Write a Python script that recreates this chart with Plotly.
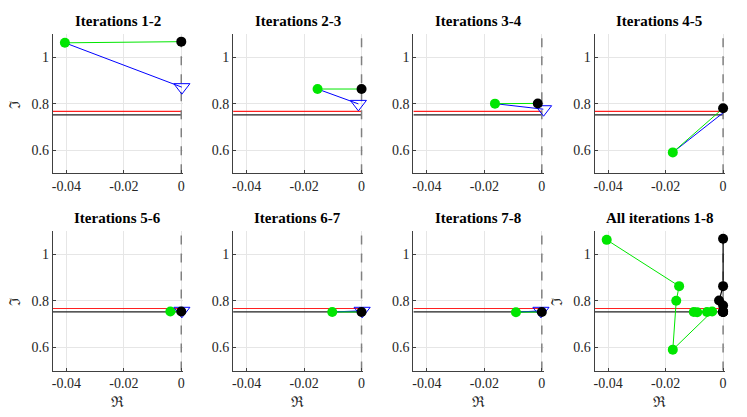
import plotly.graph_objects as go

# iterate points per iteration (real / imaginary part)
black_re = [0.0, 0.0, -0.0014, 0.0, 0.0, 0.0, 0.0, 0.0]
black_im = [1.067, 0.863, 0.801, 0.780, 0.754, 0.752, 0.752, 0.752]
green_re = [-0.0405, -0.0153, -0.0163, -0.0175, -0.0038, -0.0102, -0.0090, -0.0056]
green_im = [1.062, 0.863, 0.800, 0.590, 0.754, 0.752, 0.751, 0.752]
tri_re = [0.0002, -0.0011, 0.0006, 0.0007, 0.0002, 0.0002, -0.0003]
tri_im = [0.871, 0.799, 0.776, 0.767, 0.757, 0.757, 0.757]

# reference eigenvalue lines and imaginary axis
ref_re = [-0.0447, 0.0]
red_ref_im = [0.767, 0.767]
blk_ref_im = [0.752, 0.752]
imag_axis_re = [0.0, 0.0]
imag_axis_im = [0.5, 1.1]

panel_titles = ["Iterations 1-2", "Iterations 2-3", "Iterations 3-4", "Iterations 4-5",
                "Iterations 5-6", "Iterations 6-7", "Iterations 7-8", "All iterations 1-8"]
x_ticks = [-0.04, -0.02, 0]
x_tick_text = ["-0.04", "-0.02", "0"]
y_ticks = [0.6, 0.8, 1]
y_tick_text = ["0.6", "0.8", "1"]

W, H = 747, 417
OFF = 8  # the page body adds an 8px margin, so shift everything back
FONT = "Liberation Serif"
GREEN = "#00e600"

lefts = [52 - OFF, 233 - OFF, 414 - OFF, 596 - OFF]
rows = [(34 - OFF, 173.3 - OFF), (231 - OFF, 370.6 - OFF)]   # top / bottom pixel of each row
pw = 130.7

fig = go.Figure()
annotations = []


def add_trace(k, **kw):
    ax = "" if k == 0 else str(k + 1)
    fig.add_trace(go.Scatter(xaxis="x" + ax, yaxis="y" + ax, showlegend=False,
                             hoverinfo="skip", cliponaxis=False, **kw))


for k in range(8):
    r, c = divmod(k, 4)
    x0 = lefts[c]
    top, bot = rows[r]
    ax = "" if k == 0 else str(k + 1)

    # reference lines
    add_trace(k, x=ref_re, y=red_ref_im, mode="lines", line=dict(color="#ff2020", width=1.2))
    add_trace(k, x=ref_re, y=blk_ref_im, mode="lines", line=dict(color="#202020", width=1.2))
    add_trace(k, x=imag_axis_re, y=imag_axis_im, mode="lines",
              line=dict(color="#808080", width=1.5, dash="dash"))

    if k < 7:
        add_trace(k, x=[green_re[k], tri_re[k]], y=[green_im[k], tri_im[k]], mode="lines",
                  line=dict(color="#0000ff", width=1))
        add_trace(k, x=[tri_re[k]], y=[tri_im[k]], mode="markers",
                  marker=dict(symbol="triangle-down-open", size=14, color="#0000ff",
                              line=dict(width=1, color="#0000ff")))
        add_trace(k, x=[green_re[k], black_re[k]], y=[green_im[k], black_im[k]], mode="lines",
                  line=dict(color=GREEN, width=1))
        add_trace(k, x=[green_re[k]], y=[green_im[k]], mode="markers",
                  marker=dict(size=10, color=GREEN))
        add_trace(k, x=[black_re[k]], y=[black_im[k]], mode="markers",
                  marker=dict(size=10, color="black"))
    else:
        add_trace(k, x=green_re, y=green_im, mode="lines+markers",
                  line=dict(color=GREEN, width=1), marker=dict(size=10, color=GREEN))
        add_trace(k, x=black_re, y=black_im, mode="lines+markers",
                  line=dict(color="black", width=1.2), marker=dict(size=10, color="black"))

    axis_common = dict(showgrid=True, gridcolor="#e6e6e6", gridwidth=1, zeroline=False,
                       showline=True, linecolor="#404040", linewidth=1,
                       ticks="inside", ticklen=3, tickcolor="#404040",
                       tickfont=dict(family=FONT, size=14, color="#262626"))
    fig.layout["xaxis" + ax] = dict(domain=[x0 / W, (x0 + pw) / W], range=[-0.0447, 0.0006],
                                    anchor="y" + ax, tickvals=x_ticks, ticktext=x_tick_text,
                                    **axis_common)
    fig.layout["yaxis" + ax] = dict(domain=[1 - bot / H, 1 - top / H], range=[0.5, 1.1],
                                    anchor="x" + ax, tickvals=y_ticks, ticktext=y_tick_text,
                                    **axis_common)

    # panel title
    annotations.append(dict(text="<b>" + panel_titles[k] + "</b>", xref="paper", yref="paper",
                            x=(x0 + 65) / W, y=1 - (top - 13) / H, showarrow=False,
                            xanchor="center", yanchor="middle",
                            font=dict(family=FONT, size=15, color="black")))
    if r == 1:
        annotations.append(dict(text="ℜ", xref="paper", yref="paper",
                                x=(x0 + 65) / W, y=1 - (402 - OFF) / H, showarrow=False,
                                xanchor="center", yanchor="middle",
                                font=dict(family=FONT, size=15, color="#262626")))
    if c == 0 or k == 7:
        annotations.append(dict(text="ℑ", xref="paper", yref="paper", textangle=-90,
                                x=(x0 - 38) / W, y=1 - ((top + bot) / 2) / H, showarrow=False,
                                xanchor="center", yanchor="middle",
                                font=dict(family=FONT, size=15, color="#262626")))

fig.update_layout(width=W, height=H, margin=dict(l=0, r=0, t=0, b=0),
                  plot_bgcolor="white", paper_bgcolor="white",
                  font=dict(family=FONT),
                  annotations=annotations, showlegend=False)

fig.write_html("out.html")
